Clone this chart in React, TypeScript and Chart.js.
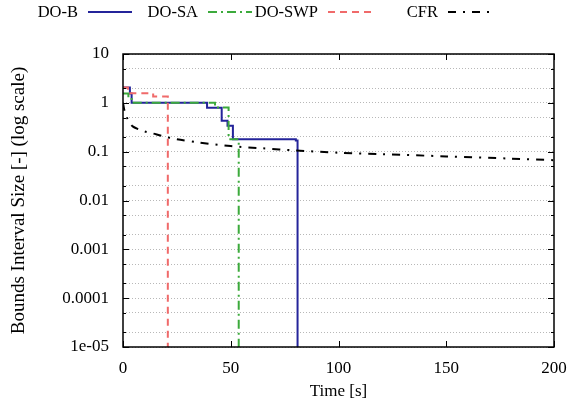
import React, { useEffect, useRef } from "react";
import { Chart, registerables } from "chart.js";

Chart.register(...registerables);

// ---- data ----
const seriesNames = ["DO-B", "DO-SA", "DO-SWP", "CFR"];

const doBTimes = [0, 3.2, 4.0, 39, 45.8, 48.5, 51, 80.2, 81];
const doBValues = [2.05, 1.55, 1.0, 0.79, 0.43, 0.34, 0.18, 0.17, 1e-5];

const doSATimes = [0, 2.5, 4.0, 42.7, 49, 53.7];
const doSAValues = [1.55, 1.3, 1.0, 0.8, 0.18, 1e-5];

const doSWPTimes = [0, 2.3, 14, 20.8];
const doSWPValues = [2.05, 1.57, 1.35, 1e-5];

const cfrTimes = [0, 0.5, 1, 2, 3, 4.5, 7, 10, 14, 18, 25, 35, 50, 65, 80, 100, 120, 150, 180, 200];
const cfrValues = [1.0, 0.75, 0.62, 0.48, 0.4, 0.33, 0.29, 0.26, 0.235, 0.21, 0.18, 0.155, 0.13, 0.117, 0.106, 0.095, 0.089, 0.08, 0.072, 0.067];

const xTicks = [0, 50, 100, 150, 200];
const yTicks = [1e-5, 2e-5, 5e-5, 1e-4, 2e-4, 5e-4, 1e-3, 2e-3, 5e-3, 1e-2, 2e-2, 5e-2, 0.1, 0.2, 0.5, 1, 2, 5, 10];
const yTickLabels: Record<string, string> = {
  "-5": "1e-05",
  "-4": "0.0001",
  "-3": "0.001",
  "-2": "0.01",
  "-1": "0.1",
  "0": "1",
  "1": "10",
};

const toPoints = (xs: number[], ys: number[]) => xs.map((x, i) => ({ x, y: ys[i] }));

const FONT = "'Liberation Serif', 'DejaVu Serif', serif";

const framePlugin = {
  id: "frame",
  afterDraw(chart: any) {
    const { ctx, chartArea: a, scales } = chart;
    ctx.save();
    ctx.strokeStyle = "#000";
    ctx.lineWidth = 1;
    const ys = scales.y;
    for (const v of yTicks) {
      const py = Math.round(ys.getPixelForValue(v)) + 0.5;
      const major = Math.abs(Math.log10(v) - Math.round(Math.log10(v))) < 1e-9;
      const len = major ? 6 : 3;
      ctx.beginPath();
      ctx.moveTo(a.left, py);
      ctx.lineTo(a.left + len, py);
      ctx.moveTo(a.right, py);
      ctx.lineTo(a.right - len, py);
      ctx.stroke();
    }
    const xs = scales.x;
    for (const v of xTicks) {
      const px = Math.round(xs.getPixelForValue(v)) + 0.5;
      ctx.beginPath();
      ctx.moveTo(px, a.bottom);
      ctx.lineTo(px, a.bottom - 6);
      ctx.moveTo(px, a.top);
      ctx.lineTo(px, a.top + 6);
      ctx.stroke();
    }
    ctx.lineWidth = 1.5;
    ctx.strokeRect(a.left, a.top, a.right - a.left, a.bottom - a.top);

    // legend: text then line sample
    ctx.font = `16.5px ${FONT}`;
    ctx.textBaseline = "middle";
    ctx.textAlign = "right";
    const ly = 12;
    chart.data.datasets.forEach((ds: any, i: number) => {
      const lineEnd = 132 + i * 120;
      const lineStart = lineEnd - 44;
      ctx.fillStyle = "#000";
      ctx.fillText(ds.label, lineStart - 10, ly + 1);
      ctx.strokeStyle = ds.borderColor;
      ctx.lineWidth = ds.borderWidth;
      ctx.setLineDash(ds.borderDash || []);
      ctx.beginPath();
      ctx.moveTo(lineStart, ly);
      ctx.lineTo(lineEnd, ly);
      ctx.stroke();
      ctx.setLineDash([]);
    });
    ctx.restore();
  },
};

export default function App() {
  const ref = useRef<HTMLCanvasElement | null>(null);

  useEffect(() => {
    if (!ref.current) return;
    const chart = new Chart(ref.current, {
      type: "line",
      data: {
        datasets: [
          {
            label: seriesNames[0],
            data: toPoints(doBTimes, doBValues),
            borderColor: "#24249a",
            borderWidth: 2,
            stepped: "before",
            pointRadius: 0,
            order: 4,
          },
          {
            label: seriesNames[1],
            data: toPoints(doSATimes, doSAValues),
            borderColor: "#3caa3c",
            borderWidth: 2,
            borderDash: [9, 4, 2, 4],
            stepped: "before",
            pointRadius: 0,
            order: 3,
          },
          {
            label: seriesNames[2],
            data: toPoints(doSWPTimes, doSWPValues),
            borderColor: "#f06a6a",
            borderWidth: 2,
            borderDash: [7, 5],
            stepped: "before",
            pointRadius: 0,
            order: 2,
          },
          {
            label: seriesNames[3],
            data: toPoints(cfrTimes, cfrValues),
            borderColor: "#000000",
            borderWidth: 2,
            borderDash: [8, 7, 2, 7],
            pointRadius: 0,
            tension: 0.3,
            order: 1,
          },
        ] as any,
      },
      options: {
        responsive: false,
        animation: false,
        layout: { padding: { top: 54, right: 16, left: 0, bottom: 0 } },
        plugins: {
          legend: { display: false },
          tooltip: { enabled: false },
        },
        scales: {
          x: {
            type: "linear",
            min: 0,
            max: 200,
            border: { display: false },
            grid: { display: false, drawTicks: false },
            afterBuildTicks: (s: any) => {
              s.ticks = xTicks.map((v) => ({ value: v }));
            },
            afterFit: (s: any) => {
              s.height = 58;
              s.paddingLeft = 0;
              s.paddingRight = 0;
            },
            ticks: {
              color: "#000",
              padding: 11,
              maxRotation: 0,
              autoSkip: false,
              font: { family: FONT, size: 17 },
            },
            title: {
              display: true,
              text: "Time [s]",
              color: "#000",
              font: { family: FONT, size: 17 },
              padding: { top: 0, bottom: 3 },
            },
          },
          y: {
            type: "logarithmic",
            min: 1e-5,
            max: 10,
            border: { display: false },
            grid: {
              drawTicks: false,
              color: "#b8b8b8",
              lineWidth: 1,
            },
            afterBuildTicks: (s: any) => {
              s.ticks = yTicks.map((v) => ({ value: v }));
            },
            afterFit: (s: any) => {
              s.width = 123;
              s.paddingTop = 0;
              s.paddingBottom = 0;
            },
            ticks: {
              color: "#000",
              padding: 14,
              autoSkip: false,
              font: { family: FONT, size: 17 },
              callback: (v: any) => {
                const l = Math.log10(Number(v));
                if (Math.abs(l - Math.round(l)) < 1e-9) return yTickLabels[String(Math.round(l))] ?? "";
                return "";
              },
            },
            title: {
              display: true,
              text: "Bounds Interval Size [-] (log scale)",
              color: "#000",
              font: { family: FONT, size: 19 },
              padding: { top: 8, bottom: 0 },
            },
          },
        },
      } as any,
      plugins: [framePlugin],
    });
    (chart.options.scales as any).y.grid.borderDash = [1, 2];
    (chart.options.scales as any).y.border = { display: false, dash: [1, 2] };
    chart.update();
    return () => chart.destroy();
  }, []);

  return (
    <div style={{ position: "absolute", left: 0, top: 0, width: 570, height: 405, background: "#fff" }}>
      <canvas ref={ref} width={570} height={405} />
    </div>
  );
}
